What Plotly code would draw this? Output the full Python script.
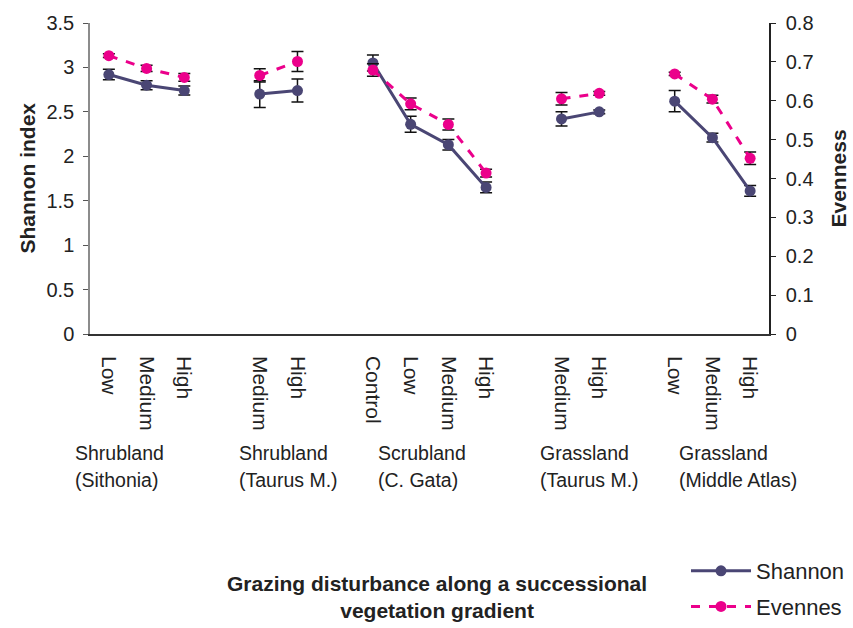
import plotly.graph_objects as go

# ---- data ----
x_pos = list(range(18))
tick_pos = [0, 1, 2, 4, 5, 7, 8, 9, 10, 12, 13, 15, 16, 17]
tick_labels = ["Low", "Medium", "High", "Medium", "High", "Control", "Low",
               "Medium", "High", "Medium", "High", "Low", "Medium", "High"]

shannon = [2.92, 2.80, 2.74, None, 2.70, 2.74, None, 3.05, 2.36, 2.13, 1.65,
           None, 2.42, 2.50, None, 2.62, 2.21, 1.61]
shannon_err = [0.06, 0.05, 0.05, None, 0.15, 0.13, None, 0.09, 0.09, 0.06, 0.06,
               None, 0.08, 0.02, None, 0.12, 0.05, 0.06]
evenness = [0.716, 0.683, 0.660, None, 0.665, 0.701, None, 0.679, 0.592, 0.539, 0.414,
            None, 0.605, 0.619, None, 0.669, 0.604, 0.452]
evenness_err = [0.005, 0.008, 0.010, None, 0.017, 0.026, None, 0.016, 0.015, 0.014, 0.010,
                None, 0.016, 0.005, None, 0.004, 0.010, 0.016]

group_line1 = ["Shrubland", "Shrubland", "Scrubland", "Grassland", "Grassland"]
group_line2 = ["(Sithonia)", "(Taurus M.)", "(C. Gata)", "(Taurus M.)", "(Middle Atlas)"]
group_px = [73, 237, 376, 538, 677]

DARK = "#4a4674"
PINK = "#eb008b"
FONT = "Liberation Sans, Arial, sans-serif"

L, R, T, B = 90, 84, 23, 294
PW = 853 - L - R
PH = 628 - T - B

fig = go.Figure()
fig.add_trace(go.Scatter(
    x=x_pos, y=shannon, name="Shannon", mode="lines+markers",
    line=dict(color=DARK, width=3), marker=dict(color=DARK, size=11),
    error_y=dict(type="data", array=shannon_err, color="#111111", thickness=1.5, width=6),
    connectgaps=False, legendgroup="a"))
fig.add_trace(go.Scatter(
    x=x_pos, y=evenness, name="Evennes", mode="lines+markers", yaxis="y2",
    line=dict(color=PINK, width=3, dash="dash"), marker=dict(color=PINK, size=11),
    error_y=dict(type="data", array=evenness_err, color="#111111", thickness=1.5, width=6),
    connectgaps=False, legendgroup="b"))

annotations = []
for gpx, l1, l2 in zip(group_px, group_line1, group_line2):
    gx = (gpx - L) / PW
    annotations.append(dict(x=gx, y=(334 - 453) / PH, xref="paper", yref="paper", text=l1,
                            showarrow=False, xanchor="left", yanchor="middle",
                            font=dict(size=19.5, color="#222", family=FONT)))
    annotations.append(dict(x=gx, y=(334 - 480) / PH, xref="paper", yref="paper", text=l2,
                            showarrow=False, xanchor="left", yanchor="middle",
                            font=dict(size=19.5, color="#222", family=FONT)))
annotations.append(dict(x=(27 - L) / PW, y=0.5, xref="paper", yref="paper", text="<b>Shannon index</b>",
                        textangle=-90, showarrow=False, xanchor="center", yanchor="middle",
                        font=dict(size=21, color="#222", family=FONT)))
annotations.append(dict(x=(838 - L) / PW, y=0.5, xref="paper", yref="paper", text="<b>Evenness</b>",
                        textangle=-90, showarrow=False, xanchor="center", yanchor="middle",
                        font=dict(size=21, color="#222", family=FONT)))
annotations.append(dict(x=(437 - L) / PW, y=(334 - 597) / PH, xref="paper", yref="paper",
                        text="<b>Grazing disturbance along a successional<br>vegetation gradient</b>",
                        showarrow=False, xanchor="center", yanchor="middle", align="center",
                        font=dict(size=21, color="#222", family=FONT)))

fig.update_layout(
    width=853, height=628,
    margin=dict(l=L, r=R, t=T, b=B, autoexpand=False),
    paper_bgcolor="white", plot_bgcolor="white",
    font=dict(family=FONT, size=19, color="#222"),
    showlegend=True,
    legend=dict(x=(686 - L) / PW, y=(334 - 550) / PH, xanchor="left", yanchor="top",
                font=dict(size=22, color="#222", family=FONT), bgcolor="rgba(0,0,0,0)",
                traceorder="grouped", tracegroupgap=4, itemwidth=60),
    xaxis=dict(range=[-0.5, 17.5], tickvals=tick_pos, ticktext=tick_labels, tickangle=90,
               showgrid=False, zeroline=False, showline=True, linecolor="#333", linewidth=1.5,
               ticks="", ticklabelstandoff=16, automargin=False,
               tickfont=dict(size=21, color="#222")),
    yaxis=dict(range=[0, 3.5], dtick=0.5, showgrid=False, zeroline=False, showline=True,
               linecolor="#8c8c8c", linewidth=1.5, ticks="outside", ticklen=5, tickcolor="#555",
               ticklabelstandoff=5, automargin=False, tickfont=dict(size=20, color="#222")),
    yaxis2=dict(range=[0, 0.8], dtick=0.1, overlaying="y", side="right", showgrid=False,
                zeroline=False, showline=True, linecolor="#222", linewidth=1.5,
                ticks="outside", ticklen=5, tickcolor="#222", ticklabelstandoff=6,
                automargin=False, tickfont=dict(size=20, color="#222")),
    annotations=annotations,
)

fig.write_html("out.html")
